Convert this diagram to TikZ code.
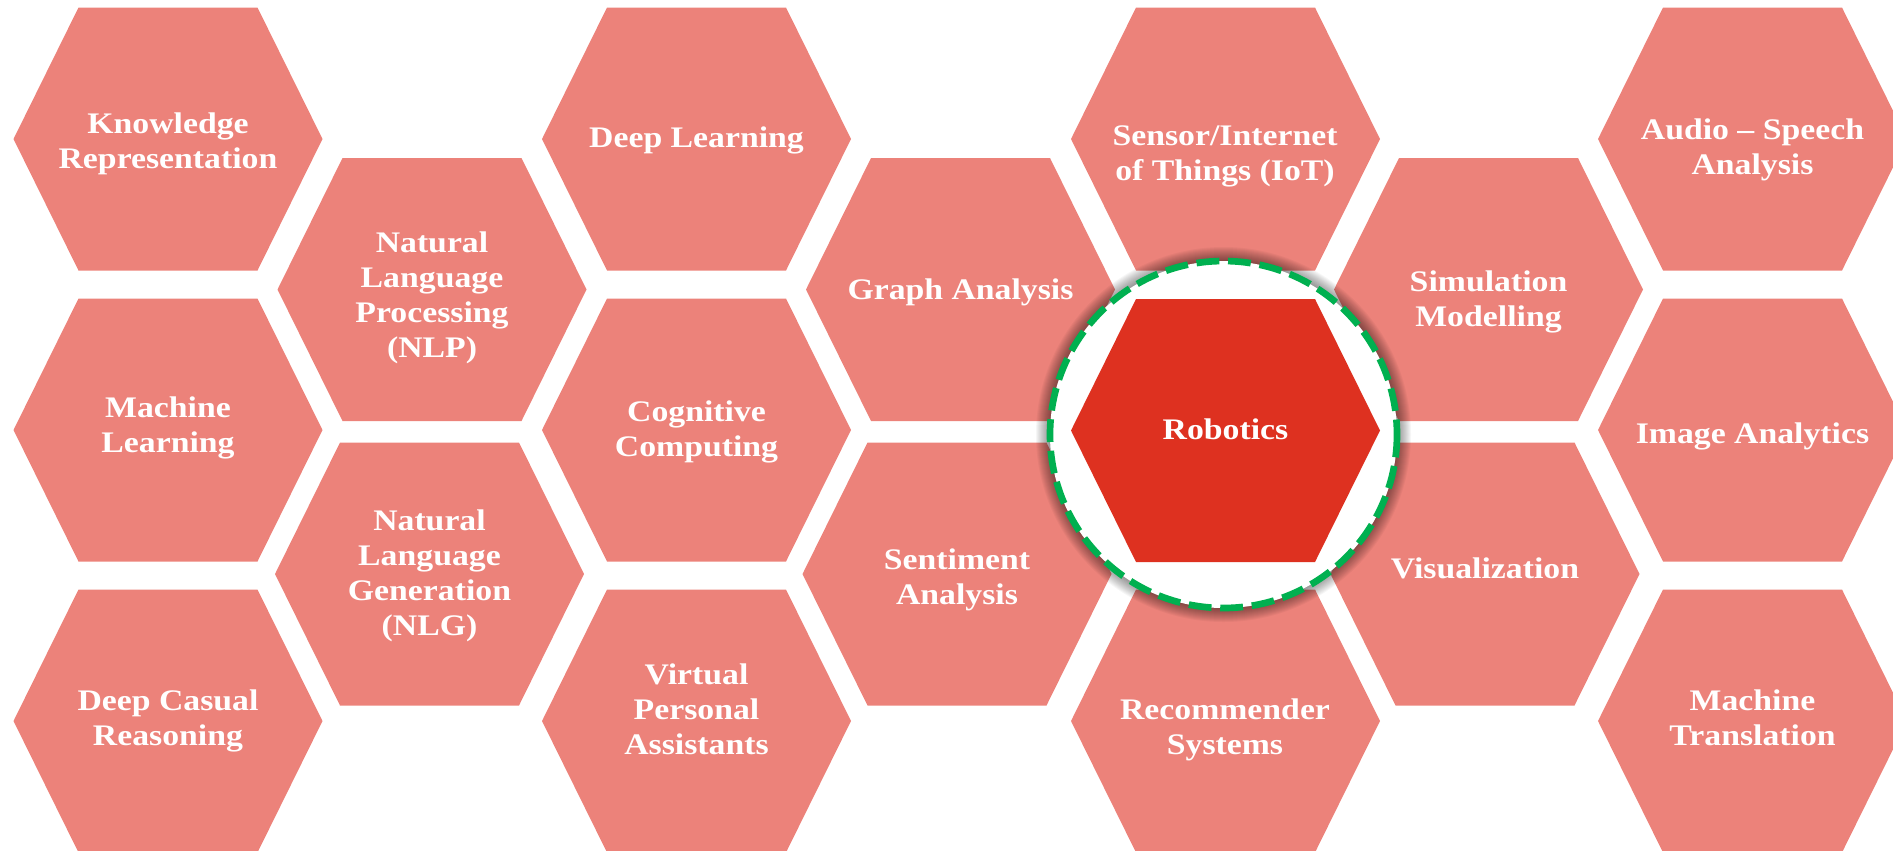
\documentclass[tikz,border=0pt]{standalone}
\usepackage{fontspec}
\setmainfont{Liberation Serif}[FakeStretch=1.13]
\usetikzlibrary{math}
\definecolor{myrose}{RGB}{236,130,122}
\definecolor{myred}{RGB}{222,49,32}
\definecolor{mygreen}{RGB}{0,176,80}

\tikzset{
  hexcell/.pic={\path[pic actions] (-154.5,0) -- (-89.5,-131.5) -- (89.5,-131.5) -- (154.5,0) -- (89.5,131.5) -- (-89.5,131.5) -- cycle;},
  hexfill/.style={fill=myrose},
  hubfill/.style={fill=myred},
  celltext/.style={text=white, align=center, inner sep=0pt, yshift=-0.13cm,
    font=\bfseries\fontsize{17}{19.9}\selectfont,
    execute at begin node=\strut, execute at end node=\strut},
}

\begin{document}
\begin{tikzpicture}[x=0.02cm,y=-0.02cm]
\tikzmath{
\R=173.5;
}
\clip (0,0) rectangle (1893,850);
\coordinate (hub) at (1223.5,434.5);

% first column
\pic[hexfill] at (168,139) {hexcell};
\pic[hexfill] at (168,430) {hexcell};
\pic[hexfill] at (168,721) {hexcell};
\node[celltext] (kr) at (168,139) {Knowledge\\Representation};
\node[celltext] (ml) at (168,423) {Machine\\Learning};
\node[celltext] (dcr) at (168,716.5) {Deep Casual\\Reasoning};

% second column
\pic[hexfill] at (432,289.5) {hexcell};
\pic[hexfill] at (429.5,574) {hexcell};
\node[celltext] (nlp) at (432,293) {Natural\\Language\\Processing\\(NLP)};
\node[celltext] (nlg) at (429.5,571) {Natural\\Language\\Generation\\(NLG)};

% third column
\pic[hexfill] at (696.5,139) {hexcell};
\pic[hexfill] at (696.5,430) {hexcell};
\pic[hexfill] at (696.5,721) {hexcell};
\node[celltext] (dl) at (696.5,134) {Deep Learning};
\node[celltext] (cc) at (696.5,427) {Cognitive\\Computing};
\node[celltext] (vpa) at (696.5,707.5) {Virtual\\Personal\\Assistants};

% fourth column
\pic[hexfill] at (960.5,289.5) {hexcell};
\pic[hexfill] at (957,574) {hexcell};
\node[celltext] (ga) at (960.5,286) {Graph Analysis};
\node[celltext] (sa) at (957,575) {Sentiment\\Analysis};

% fifth column
\pic[hexfill] at (1225.5,139) {hexcell};
\pic[hexfill] at (1225.5,721) {hexcell};
\node[celltext] (iot) at (1225,152) {Sensor/Internet\\of Things (IoT)};
\node[celltext] (rs) at (1225,725) {Recommender\\Systems};

% sixth column
\pic[hexfill] at (1488.5,289.5) {hexcell};
\pic[hexfill] at (1485,574) {hexcell};
\node[celltext] (sim) at (1488.5,297.5) {Simulation\\Modelling};
\node[celltext] (vis) at (1485,565) {Visualization};

% seventh column
\pic[hexfill] at (1752.5,139) {hexcell};
\pic[hexfill] at (1752.5,430) {hexcell};
\pic[hexfill] at (1752.5,721) {hexcell};
\node[celltext] (asa) at (1752.5,145.5) {Audio -- Speech\\Analysis};
\node[celltext] (ia) at (1752.5,430) {Image Analytics};
\node[celltext] (mt) at (1752.5,716.5) {Machine\\Translation};

% highlighted cell
\foreach \k in {1,...,14}
  \fill[black, opacity=0.035] (hub) circle ({\R+\k});
\fill[white] (hub) circle (\R);
\draw[mygreen, line width=3.8, dash pattern=on 13pt off 5pt] (hub) circle (\R);
\pic[hubfill] at (1225.5,430.5) {hexcell};
\node[celltext] (rob) at (1225.5,426) {Robotics};

\end{tikzpicture}
\end{document}
